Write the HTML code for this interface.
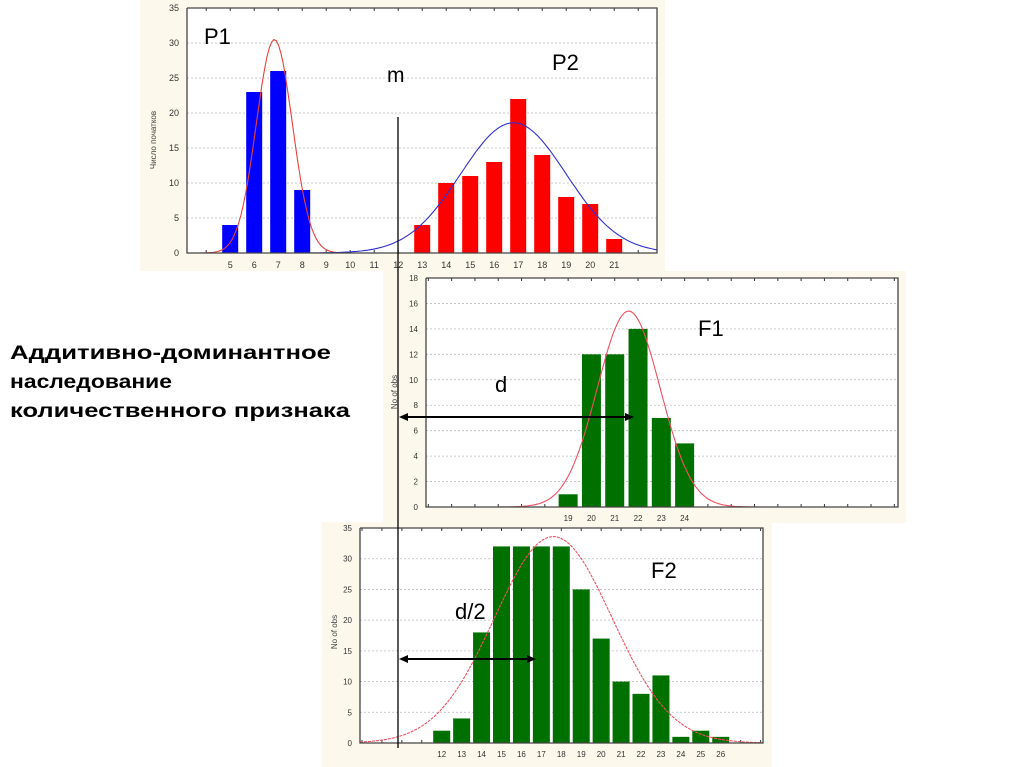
<!DOCTYPE html>
<html><head><meta charset="utf-8"><style>
html,body{margin:0;padding:0;background:#fff;}
svg{display:block;}
text{font-family:"Liberation Sans",sans-serif;}
</style></head><body>
<svg id="root" width="1024" height="767" viewBox="0 0 1024 767">
<rect x="140" y="0" width="525" height="271" fill="#fdf8ec"/>
<rect x="383" y="271" width="523" height="252" fill="#fdf8ec"/>
<rect x="322" y="522" width="450" height="245" fill="#fdf8ec"/>
<g id="c1"></g>
<g id="c2"></g>
<g id="c3"></g>
<g id="ann"></g>
</svg>
<script>
// ---- Chart data ----
const p1Cats = [5,6,7,8];
const p1Vals = [4,23,26,9];
const p2Cats = [13,14,15,16,17,18,19,20,21];
const p2Vals = [4,10,11,13,22,14,8,7,2];
const pTickLabels = [5,6,7,8,9,10,11,12,13,14,15,16,17,18,19,20,21];
const pYTicks = [0,5,10,15,20,25,30,35];
const p1Curve = [30.5, 6.84, 0.75]; // peak, mean, sd
const p2Curve = [18.6, 16.8, 2.2];

const f1Cats = [19,20,21,22,23,24];
const f1Vals = [1,12,12,14,7,5];
const f1TickLabels = [19,20,21,22,23,24];
const f1YTicks = [0,2,4,6,8,10,12,14,16,18];
const f1Curve = [15.4, 21.6, 1.35];

const f2Cats = [12,13,14,15,16,17,18,19,20,21,22,23,24,25,26];
const f2Vals = [2,4,18,32,32,32,32,25,17,10,8,11,1,2,1];
const f2TickLabels = [12,13,14,15,16,17,18,19,20,21,22,23,24,25,26];
const f2YTicks = [0,5,10,15,20,25,30,35];
const f2Curve = [33.6, 17.6, 2.95];

const NS = "http://www.w3.org/2000/svg";
function mk(parent, tag, attrs, txt){
  const e = document.createElementNS(NS, tag);
  for (const k in attrs) e.setAttribute(k, attrs[k]);
  if (txt !== undefined) e.textContent = txt;
  parent.appendChild(e);
  return e;
}

function drawChart(g, cfg){
  const xs = v => cfg.left + (v - cfg.x0) * cfg.step;
  const ys = v => cfg.bottom - (v / cfg.ymax) * (cfg.bottom - cfg.top);
  const frame = mk(g,'rect',{x:cfg.left,y:cfg.top,width:cfg.right-cfg.left,height:cfg.bottom-cfg.top,fill:'#fff',stroke:'none'});
  
  
  cfg.yTicks.forEach(t=>{
    const y = ys(t);
    if (t>0 && t<cfg.ymax){
      const gl = mk(g,'line',{x1:cfg.left,x2:cfg.right,y1:y,y2:y,stroke:'#bbb','stroke-width':0.8,'stroke-dasharray':'2,2'});
      
      
    }
    const tl = mk(g,'text',{x:cfg.left-8,y:y+3,'font-size':cfg.tickFs,'text-anchor':'end',fill:'#333'}, String(t));
    
    
  });
  // top ticks
  for (let v = Math.ceil(cfg.x0); xs(v) < cfg.right; v++){
    const tk = mk(g,'line',{x1:xs(v),x2:xs(v),y1:cfg.top,y2:cfg.top+3,stroke:'#333','stroke-width':1});
    
    
    const bt = mk(g,'line',{x1:xs(v),x2:xs(v),y1:cfg.bottom,y2:cfg.bottom-3,stroke:'#333','stroke-width':1});
    
    
  }
  cfg.series.forEach(s=>{
    s.cats.forEach((c,i)=>{
      const x = xs(c), y = ys(s.vals[i]);
      const b = mk(g,'rect',{x:x-cfg.bw/2,y:y,width:cfg.bw,height:cfg.bottom-y,fill:s.color});
      
      
    });
  });
  cfg.curves.forEach(cv=>{
    const [pk,mu,sd] = cv.p;
    let d = '';
    const n = 200;
    for (let i=0;i<=n;i++){
      const v = cfg.x0 + (cfg.right-cfg.left)/cfg.step * i/n;
      const yv = pk*Math.exp(-((v-mu)**2)/(2*sd*sd));
      d += (i?'L':'M') + xs(v).toFixed(1) + ',' + ys(yv).toFixed(1);
    }
    const p = mk(g,'path',{d:d,fill:'none',stroke:cv.color,'stroke-width':1.1,'stroke-dasharray':cv.dash||'none'});
    
    
  });
  const border = mk(g,'path',{d:`M${cfg.left},${cfg.top}V${cfg.bottom}H${cfg.right}V${cfg.top}H${cfg.left}`,fill:'none',stroke:'#444','stroke-width':1.3});
  
  
  cfg.xLabels.forEach(t=>{
    const xl = mk(g,'text',{x:xs(t),y:cfg.bottom+cfg.tickFs+6,'font-size':cfg.tickFs,'text-anchor':'middle',fill:'#333'}, String(t));
    
    
  });
  const yt = mk(g,'text',{x:cfg.ytX,y:cfg.ytY,'font-size':8,'text-anchor':'middle',fill:'#444',transform:`rotate(-90 ${cfg.ytX} ${cfg.ytY})`}, cfg.yTitle);
  
  
}

drawChart(document.getElementById('c1'),{
  left:187,right:657,top:8,bottom:253,x0:3.2,step:24.0,ymax:35,bw:16,tickFs:9,
  yTicks:pYTicks,xLabels:pTickLabels,
  series:[{name:'p1',cats:p1Cats,vals:p1Vals,color:'#0000ff'},{name:'p2',cats:p2Cats,vals:p2Vals,color:'#ff0000'}],
  curves:[{name:'p1-normal-curve',p:p1Curve,color:'#e8413c'},{name:'p2-normal-curve',p:p2Curve,color:'#3030d0'}],
  yTitle:'Число початков',ytX:156,ytY:140
});
drawChart(document.getElementById('c2'),{
  left:426,right:898,top:278,bottom:507,x0:12.9,step:23.3,ymax:18,bw:19,tickFs:8,
  yTicks:f1YTicks,xLabels:f1TickLabels,
  series:[{name:'f1',cats:f1Cats,vals:f1Vals,color:'#007000'}],
  curves:[{name:'f1-normal-curve',p:f1Curve,color:'#f05060'}],
  yTitle:'No of obs',ytX:397,ytY:392
});
drawChart(document.getElementById('c3'),{
  left:360,right:763,top:528,bottom:743,x0:7.9,step:19.93,ymax:35,bw:17,tickFs:8,
  yTicks:f2YTicks,xLabels:f2TickLabels,
  series:[{name:'f2',cats:f2Cats,vals:f2Vals,color:'#007000'}],
  curves:[{name:'f2-normal-curve',p:f2Curve,color:'#f05060',dash:'3,1'}],
  yTitle:'No of obs',ytX:337,ytY:632
});

const a = document.getElementById('ann');
function lab(x,y,s,t,name){
  const e = mk(a,'text',{x:x,y:y,'font-size':s,fill:'#000'},t);
  
  
}
lab(204,44,22,'P1','p1-label');
lab(552,70,22,'P2','p2-label');
lab(387,82,21,'m','m-label');
lab(698,336,22,'F1','f1-label');
lab(651,578,22,'F2','f2-label');
lab(495,392,22,'d','d-label');
lab(455,619,22,'d/2','d-half-label');
const ml = mk(a,'line',{x1:398,x2:398,y1:117,y2:748,stroke:'#000','stroke-width':1.3});


function arrow(x1,x2,y,name){
  const l = mk(a,'line',{x1:x1+6,x2:x2-6,y1:y,y2:y,stroke:'#000','stroke-width':2});
  
  
  const h1 = mk(a,'path',{d:`M${x1},${y}L${x1+9},${y-4}L${x1+9},${y+4}Z`,fill:'#000'});
  
  
  const h2 = mk(a,'path',{d:`M${x2},${y}L${x2-9},${y-4}L${x2-9},${y+4}Z`,fill:'#000'});
  
  
}
arrow(399,634,417,'d-arrow');
arrow(399,536,659,'d-half-arrow');
const lines = ['Аддитивно-доминантное','наследование','количественного признака'];
const lens = [321,162,340];
lines.forEach((t,i)=>{
  const e = mk(a,'text',{x:10,y:359+i*29,'font-size':19,'font-weight':'bold',fill:'#000',textLength:lens[i],lengthAdjust:'spacingAndGlyphs'},t);
  
  
});
</script>
</body></html>
